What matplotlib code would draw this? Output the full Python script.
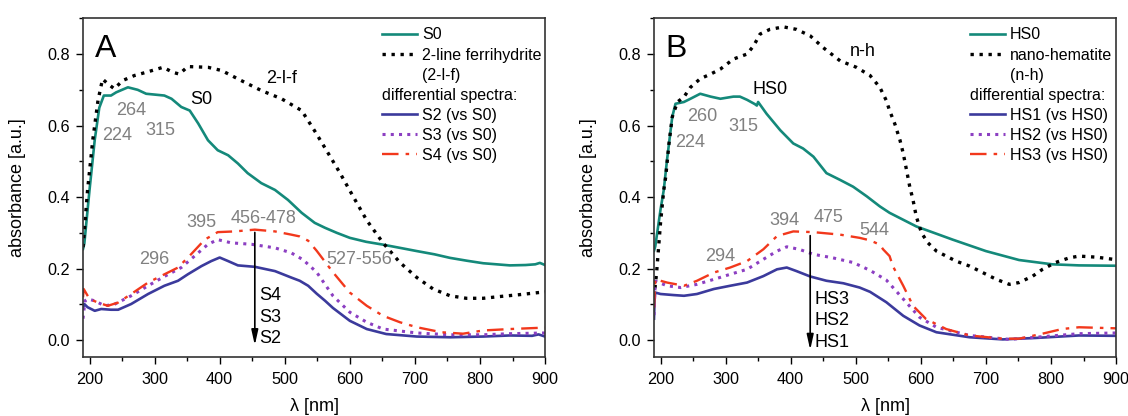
import matplotlib
matplotlib.use("Agg")
import matplotlib.pyplot as plt
from matplotlib.lines import Line2D
from matplotlib.ticker import MultipleLocator, FormatStrFormatter

plt.rcParams["font.family"] = ["Liberation Sans", "DejaVu Sans"]

# --- Data ---
# Panel A
s0_x = [190, 192, 200, 208, 215, 222, 233, 241, 259, 274, 287, 315, 326, 341, 354, 367, 382, 397,
        413, 428, 443, 464, 485, 505, 526, 546, 562, 580, 600, 625, 651, 680, 703, 730, 754, 780,
        805, 846, 870, 885, 892, 900]
s0_y = [0.255, 0.27, 0.42, 0.56, 0.65, 0.684, 0.684, 0.693, 0.707, 0.70, 0.689, 0.684, 0.675, 0.652,
        0.642, 0.606, 0.559, 0.531, 0.517, 0.494, 0.467, 0.439, 0.42, 0.392, 0.356, 0.328, 0.314,
        0.30, 0.286, 0.275, 0.267, 0.257, 0.249, 0.24, 0.23, 0.222, 0.215, 0.209, 0.21, 0.212,
        0.216, 0.21]

lf_x = [190, 197, 205, 213, 220, 228, 238, 251, 269, 287, 313, 328, 338, 351, 382, 403, 433, 464,
        495, 526, 546, 564, 585, 605, 626, 651, 677, 703, 728, 754, 779, 805, 831, 860, 900]
lf_y = [0.26, 0.42, 0.56, 0.67, 0.73, 0.717, 0.703, 0.726, 0.74, 0.749, 0.763, 0.749, 0.744, 0.765,
        0.763, 0.754, 0.726, 0.698, 0.675, 0.642, 0.585, 0.531, 0.467, 0.402, 0.335, 0.272, 0.217,
        0.175, 0.143, 0.124, 0.117, 0.117, 0.122, 0.127, 0.135]

s2_x = [190, 192, 197, 208, 218, 233, 244, 264, 290, 315, 336, 351, 372, 387, 400, 413, 428, 454,
        485, 510, 523, 536, 549, 562, 574, 600, 626, 656, 703, 754, 805, 846, 880, 890, 900]
s2_y = [0.09, 0.101, 0.092, 0.082, 0.087, 0.085, 0.085, 0.101, 0.129, 0.152, 0.166, 0.184, 0.207,
        0.221, 0.231, 0.221, 0.209, 0.205, 0.193, 0.175, 0.166, 0.152, 0.13, 0.11, 0.09, 0.054,
        0.031, 0.017, 0.01, 0.008, 0.01, 0.013, 0.012, 0.016, 0.01]

s3_x = [190, 193, 197, 208, 223, 238, 264, 290, 315, 341, 367, 382, 397, 418, 449, 485, 510, 528,
        549, 574, 600, 626, 651, 703, 754, 805, 846, 900]
s3_y = [0.06, 0.11, 0.115, 0.11, 0.096, 0.10, 0.124, 0.152, 0.178, 0.203, 0.244, 0.268, 0.281,
        0.272, 0.268, 0.258, 0.244, 0.225, 0.19, 0.124, 0.078, 0.05, 0.031, 0.02, 0.015, 0.015,
        0.018, 0.02]

s4_x = [190, 191, 200, 213, 228, 244, 264, 290, 315, 336, 356, 377, 397, 423, 454, 485, 510, 523,
        536, 549, 574, 600, 626, 651, 677, 703, 741, 774, 805, 846, 900]
s4_y = [0.12, 0.143, 0.115, 0.105, 0.096, 0.105, 0.129, 0.161, 0.184, 0.203, 0.24, 0.281, 0.302,
        0.304, 0.309, 0.304, 0.295, 0.29, 0.278, 0.25, 0.19, 0.133, 0.096, 0.068, 0.05, 0.036,
        0.022, 0.018, 0.027, 0.031, 0.035]

# Panel B
hs0_x = [190, 192, 200, 205, 210, 218, 223, 236, 246, 261, 277, 292, 312, 322, 333, 345, 348, 350,
         363, 384, 404, 419, 435, 455, 476, 496, 517, 537, 552, 593, 649, 700, 751, 802, 843, 900]
hs0_y = [0.25, 0.263, 0.365, 0.42, 0.504, 0.624, 0.661, 0.666, 0.675, 0.689, 0.681, 0.675, 0.681,
         0.681, 0.672, 0.66, 0.656, 0.666, 0.633, 0.587, 0.55, 0.536, 0.513, 0.467, 0.448, 0.429,
         0.402, 0.374, 0.356, 0.318, 0.281, 0.249, 0.224, 0.212, 0.209, 0.208]

nh_x = [190, 194, 200, 205, 208, 213, 218, 226, 236, 246, 261, 277, 292, 312, 333, 343, 353, 368,
        389, 409, 430, 450, 476, 501, 522, 537, 547, 552, 560, 568, 573, 578, 583, 588, 593, 601,
        611, 624, 639, 654, 675, 695, 716, 736, 751, 772, 787, 807, 828, 843, 870, 900]
nh_y = [0.12, 0.189, 0.328, 0.42, 0.457, 0.55, 0.624, 0.666, 0.68, 0.707, 0.731, 0.744, 0.758,
        0.786, 0.80, 0.823, 0.856, 0.869, 0.876, 0.869, 0.851, 0.818, 0.781, 0.763, 0.74, 0.707,
        0.67, 0.642, 0.605, 0.559, 0.522, 0.476, 0.429, 0.392, 0.346, 0.30, 0.272, 0.249, 0.235,
        0.221, 0.207, 0.189, 0.17, 0.156, 0.161, 0.179, 0.198, 0.217, 0.23, 0.235, 0.232, 0.225]

hs1_x = [190, 191, 192, 200, 220, 236, 256, 282, 307, 333, 358, 379, 394, 409, 430, 455, 481, 506,
         522, 547, 573, 598, 624, 675, 726, 776, 843, 900]
hs1_y = [0.06, 0.12, 0.133, 0.129, 0.126, 0.124, 0.129, 0.143, 0.152, 0.161, 0.179, 0.198, 0.203,
         0.193, 0.178, 0.166, 0.159, 0.147, 0.135, 0.106, 0.068, 0.041, 0.022, 0.008, 0.002,
         0.006, 0.013, 0.012]

hs2_x = [190, 192, 210, 231, 256, 282, 307, 333, 358, 379, 394, 413, 435, 465, 496, 522, 547, 573,
         598, 624, 675, 736, 776, 843, 900]
hs2_y = [0.07, 0.165, 0.152, 0.147, 0.156, 0.17, 0.184, 0.198, 0.226, 0.249, 0.261, 0.254, 0.24,
         0.23, 0.217, 0.195, 0.168, 0.115, 0.064, 0.036, 0.013, 0.002, 0.008, 0.018, 0.02]

hs3_x = [190, 192, 210, 236, 256, 282, 307, 333, 358, 379, 404, 435, 476, 506, 522, 537, 542, 552,
         557, 573, 588, 608, 639, 675, 726, 751, 787, 817, 843, 900]
hs3_y = [0.09, 0.17, 0.161, 0.152, 0.166, 0.189, 0.203, 0.221, 0.254, 0.291, 0.304, 0.302, 0.295,
         0.286, 0.279, 0.267, 0.254, 0.235, 0.207, 0.152, 0.096, 0.059, 0.031, 0.013, 0.004,
         0.004, 0.018, 0.031, 0.036, 0.033]

# --- Styles ---
TEAL = "#14897a"
BLUE = "#3b3a9c"
PURPLE = "#8c3fc2"
RED = "#f2381c"
GRAY = "#808080"
dot_style = (0, (1, 1.7))
dashdot_style = (0, (7, 3, 1.5, 3))
ANN = 13

fig = plt.figure(figsize=(11.28, 4.16), dpi=100)
ax_a = fig.add_axes([0.0736, 0.142, 0.4096, 0.814])
ax_b = fig.add_axes([0.5798, 0.142, 0.4096, 0.814])

panels = [
    dict(ax=ax_a, letter="A",
         ref=("S0", s0_x, s0_y), mineral=("2-line ferrihydrite", lf_x, lf_y), abbr="(2-l-f)",
         diffs=[("S2 (vs S0)", s2_x, s2_y), ("S3 (vs S0)", s3_x, s3_y), ("S4 (vs S0)", s4_x, s4_y)]),
    dict(ax=ax_b, letter="B",
         ref=("HS0", hs0_x, hs0_y), mineral=("nano-hematite", nh_x, nh_y), abbr="(n-h)",
         diffs=[("HS1 (vs HS0)", hs1_x, hs1_y), ("HS2 (vs HS0)", hs2_x, hs2_y),
                ("HS3 (vs HS0)", hs3_x, hs3_y)]),
]

legends = []
for p in panels:
    ax = p["ax"]
    name, x, y = p["ref"]
    ax.plot(x, y, color=TEAL, lw=1.9, label=name)
    name, x, y = p["mineral"]
    ax.plot(x, y, color="black", lw=2.4, ls=dot_style, label=name)
    diff_styles = [dict(color=BLUE, lw=1.9, ls="-"),
                   dict(color=PURPLE, lw=2.2, ls=dot_style),
                   dict(color=RED, lw=1.7, ls=dashdot_style)]
    for (name, x, y), st in zip(p["diffs"], diff_styles):
        ax.plot(x, y, label=name, **st)

    ax.set_xlim(190, 900)
    ax.set_ylim(-0.047, 0.9)
    ax.xaxis.set_major_locator(MultipleLocator(100))
    ax.xaxis.set_minor_locator(MultipleLocator(50))
    ax.yaxis.set_major_locator(MultipleLocator(0.2))
    ax.yaxis.set_minor_locator(MultipleLocator(0.1))
    ax.yaxis.set_major_formatter(FormatStrFormatter("%.1f"))
    ax.tick_params(which="major", direction="out", length=5, width=1, labelsize=11.7)
    ax.tick_params(which="minor", direction="out", length=3, width=1)
    ax.tick_params(axis="x", pad=6)
    ax.tick_params(axis="y", pad=4.5)
    for sp in ax.spines.values():
        sp.set_linewidth(1.2)
        sp.set_color("#333333")
    ax.set_xlabel("λ [nm]", fontsize=13, labelpad=8)
    ax.set_ylabel("absorbance [a.u.]", fontsize=13, labelpad=15)
    ax.text(0.025, 0.955, p["letter"], transform=ax.transAxes, fontsize=23, va="top", ha="left")

    # legend: blank rows for the abbreviation and the "differential spectra:" heading
    h, l = ax.get_legend_handles_labels()
    blank = Line2D([], [], color="none")
    handles = [h[0], h[1], blank, blank, h[2], h[3], h[4]]
    labels = [l[0], l[1], p["abbr"], " ", l[2], l[3], l[4]]
    leg = ax.legend(handles, labels, loc="upper right", bbox_to_anchor=(1.012, 1.0), frameon=False,
                    fontsize=11.5, handlelength=2.2, handletextpad=0.3, labelspacing=0.32,
                    borderaxespad=0.15, borderpad=0.42)
    legends.append(leg)

# --- Annotations panel A ---
ax_a.text(264, 0.642, "264", color=GRAY, fontsize=ANN, ha="center", va="center")
ax_a.text(243, 0.573, "224", color=GRAY, fontsize=ANN, ha="center", va="center")
ax_a.text(309, 0.587, "315", color=GRAY, fontsize=ANN, ha="center", va="center")
ax_a.text(372, 0.672, "S0", fontsize=ANN, ha="center", va="center")
ax_a.text(495, 0.733, "2-l-f", fontsize=ANN, ha="center", va="center")
ax_a.text(372, 0.328, "395", color=GRAY, fontsize=ANN, ha="center", va="center")
ax_a.text(467, 0.339, "456-478", color=GRAY, fontsize=ANN, ha="center", va="center")
ax_a.text(299, 0.226, "296", color=GRAY, fontsize=ANN, ha="center", va="center")
ax_a.text(615, 0.226, "527-556", color=GRAY, fontsize=ANN, ha="center", va="center")
ax_a.annotate("", xy=(454, -0.022), xytext=(454, 0.309),
              arrowprops=dict(arrowstyle="-|>,head_width=0.2,head_length=0.9", color="black", lw=1.2))
for lab, yy in zip(["S4", "S3", "S2"], [0.124, 0.064, 0.004]):
    ax_a.text(460, yy, lab, fontsize=ANN, ha="left", va="center")

# --- Annotations panel B ---
ax_b.text(264, 0.626, "260", color=GRAY, fontsize=ANN, ha="center", va="center")
ax_b.text(245, 0.552, "224", color=GRAY, fontsize=ANN, ha="center", va="center")
ax_b.text(327, 0.598, "315", color=GRAY, fontsize=ANN, ha="center", va="center")
ax_b.text(368, 0.70, "HS0", fontsize=ANN, ha="center", va="center")
ax_b.text(511, 0.807, "n-h", fontsize=ANN, ha="center", va="center")
ax_b.text(390, 0.335, "394", color=GRAY, fontsize=ANN, ha="center", va="center")
ax_b.text(458, 0.344, "475", color=GRAY, fontsize=ANN, ha="center", va="center")
ax_b.text(529, 0.307, "544", color=GRAY, fontsize=ANN, ha="center", va="center")
ax_b.text(292, 0.235, "294", color=GRAY, fontsize=ANN, ha="center", va="center")
ax_b.annotate("", xy=(430, -0.035), xytext=(430, 0.30),
              arrowprops=dict(arrowstyle="-|>,head_width=0.2,head_length=0.9", color="black", lw=1.2))
for lab, yy in zip(["HS3", "HS2", "HS1"], [0.115, 0.054, -0.008]):
    ax_b.text(437, yy, lab, fontsize=ANN, ha="left", va="center")

# --- "differential spectra:" heading aligned with legend handles ---
fig.canvas.draw()
renderer = fig.canvas.get_renderer()
for leg in legends:
    x0 = leg.legend_handles[0].get_window_extent(renderer).x0
    above = leg.get_texts()[2].get_window_extent(renderer)
    below = leg.get_texts()[4].get_window_extent(renderer)
    yc = (above.y0 + above.y1 + below.y0 + below.y1) / 4
    fig.text(x0 / fig.bbox.width, yc / fig.bbox.height, "differential spectra:",
             fontsize=11.5, ha="left", va="center")

fig.savefig("out.png", dpi=100)
